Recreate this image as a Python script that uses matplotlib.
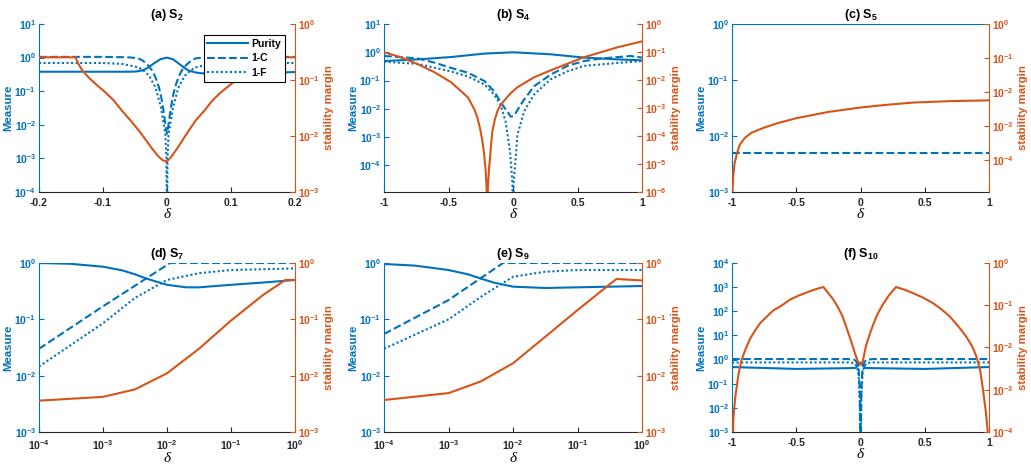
import numpy as np
import matplotlib
matplotlib.use('Agg')
import matplotlib.pyplot as plt
from matplotlib.ticker import FuncFormatter, NullLocator

# colours (matlab default order)
BLUE = '#0072BD'
ORANGE = '#D95319'
AXC = '#262626'

# ---------------- data ----------------
# (a) S2
a_pur_x = [-0.2, -0.1, -0.06, -0.049, -0.04, -0.033, -0.025, -0.018, -0.01, 0.0,
           0.01, 0.019, 0.027, 0.034, 0.045, 0.055, 0.08, 0.12, 0.2]
a_pur = [0.38, 0.38, 0.38, 0.385, 0.41, 0.46, 0.58, 0.72, 0.9, 1.0,
         0.88, 0.65, 0.5, 0.41, 0.36, 0.34, 0.34, 0.35, 0.37]
a_c_x = [-0.2, -0.1, -0.06, -0.045, -0.038, -0.03, -0.023, -0.018, -0.0125, -0.0085,
         -0.0047, -0.002, 0.0, 0.002, 0.0047, 0.0085, 0.0125, 0.018, 0.023, 0.03,
         0.038, 0.045, 0.06, 0.1, 0.2]
a_c = [1.05, 1.05, 1.02, 0.95, 0.82, 0.6, 0.41, 0.26, 0.13, 0.06,
       0.021, 0.009, 0.0054, 0.009, 0.021, 0.06, 0.13, 0.26, 0.41, 0.6,
       0.82, 0.95, 1.02, 1.05, 1.05]
a_f_x = [-0.2, -0.1, -0.07, -0.044, -0.036, -0.028, -0.018, -0.0094, -0.0026, -0.0008,
         0.0, 0.0008, 0.0026, 0.0094, 0.018, 0.028, 0.036, 0.044, 0.07, 0.1, 0.2]
a_f = [0.69, 0.69, 0.65, 0.51, 0.4, 0.29, 0.13, 0.033, 0.0054, 0.001,
       1e-6, 0.001, 0.0054, 0.033, 0.13, 0.29, 0.4, 0.51, 0.65, 0.69, 0.69]
a_sm_x = [-0.2, -0.143, -0.138, -0.132, -0.122, -0.11, -0.096, -0.083, -0.07, -0.057,
          -0.044, -0.033, -0.023, -0.014, -0.0068, 0.0, 0.0083, 0.016, 0.024, 0.034,
          0.045, 0.058, 0.071, 0.084, 0.097, 0.1125, 0.125, 0.133, 0.138, 0.143, 0.2]
a_sm = [0.254, 0.254, 0.19, 0.147, 0.11, 0.082, 0.06, 0.043, 0.028, 0.019,
        0.0125, 0.0085, 0.0059, 0.0044, 0.0037, 0.0035, 0.0045, 0.006, 0.0083, 0.0125,
        0.019, 0.028, 0.043, 0.06, 0.079, 0.11, 0.14, 0.17, 0.2, 0.254, 0.254]

# (b) S4
b_pur_x = [-1, -0.74, -0.48, -0.22, 0, 0.29, 0.55, 0.81, 1]
b_pur = [0.49, 0.56, 0.68, 0.9, 1.0, 0.85, 0.65, 0.56, 0.52]
b_c_x = [-1, -0.74, -0.6, -0.48, -0.35, -0.22, -0.147, -0.083, -0.04, -0.018, 0.0,
         0.02, 0.05, 0.085, 0.163, 0.29, 0.42, 0.55, 0.68, 0.91, 1]
b_c = [0.74, 0.61, 0.42, 0.28, 0.19, 0.095, 0.042, 0.014, 0.0075, 0.0053, 0.0055,
       0.007, 0.012, 0.021, 0.063, 0.16, 0.33, 0.49, 0.6, 0.74, 0.65]
b_f_x = [-1, -0.74, -0.48, -0.35, -0.22, -0.147, -0.096, -0.057, -0.023, -0.005, 0.0,
         0.005, 0.016, 0.034, 0.085, 0.163, 0.29, 0.42, 0.55, 0.81, 1]
b_f = [0.46, 0.39, 0.21, 0.14, 0.072, 0.032, 0.014, 0.0035, 3e-4, 2.5e-5, 1e-7,
       2.5e-5, 1e-4, 1.2e-3, 8e-3, 0.032, 0.11, 0.21, 0.33, 0.42, 0.49]
b_sm_x = [-1, -0.87, -0.74, -0.61, -0.48, -0.35, -0.3, -0.277, -0.255, -0.238, -0.225,
          -0.212, -0.205, -0.2, -0.195, -0.185, -0.178, -0.17, -0.16, -0.14, -0.12,
          -0.1, -0.07, -0.02, 0.034, 0.163, 0.29, 0.55, 0.81, 1]
b_sm = [0.098, 0.065, 0.037, 0.019, 0.0083, 0.0024, 9e-4, 4.7e-4, 1.8e-4, 6.8e-5, 2.5e-5,
        5.8e-6, 1.5e-6, 1e-8, 1.5e-6, 8e-6, 1.7e-5, 5e-5, 1.5e-4, 4e-4, 8e-4,
        1.2e-3, 0.0018, 0.0033, 0.0055, 0.0125, 0.022, 0.065, 0.147, 0.24]

# (c) S5
c_x = [-1, 1]
c_pur = [1.0, 1.0]
c_c = [0.005, 0.005]
c_sm_x = [-1, -0.995, -0.99, -0.98, -0.965, -0.94, -0.9, -0.85, -0.76, -0.65, -0.5,
          -0.25, 0, 0.2, 0.41, 0.7, 1]
c_sm = [1e-6, 1.5e-5, 3.6e-5, 8e-5, 1.4e-4, 2.8e-4, 4.5e-4, 6.3e-4, 8.7e-4, 1.2e-3,
        1.7e-3, 2.6e-3, 3.5e-3, 4.2e-3, 4.9e-3, 5.4e-3, 5.7e-3]

# (d) S7
d_pur_x = [1e-4, 3e-4, 1e-3, 2e-3, 3.16e-3, 5e-3, 1e-2, 2e-2, 3.16e-2, 1e-1, 3.16e-1, 1]
d_pur = [1.0, 0.97, 0.86, 0.74, 0.63, 0.52, 0.41, 0.37, 0.37, 0.41, 0.45, 0.5]
d_c_x = [1e-4, 1e-3, 0.0112, 1]
d_c = [0.03, 0.17, 1.0, 1.0]
d_f_x = [1e-4, 1e-3, 3.16e-3, 1e-2, 3.16e-2, 1e-1, 1]
d_f = [0.0145, 0.085, 0.24, 0.5, 0.66, 0.75, 0.8]
d_sm_x = [1e-4, 1e-3, 3.16e-3, 1e-2, 3.16e-2, 1e-1, 3.16e-1, 0.71, 1]
d_sm = [0.0036, 0.0042, 0.0057, 0.011, 0.03, 0.095, 0.27, 0.5, 0.5]

# (e) S9
e_pur_x = [1e-4, 3e-4, 1e-3, 2e-3, 3.16e-3, 5e-3, 1e-2, 3.16e-2, 1e-1, 1]
e_pur = [0.96, 0.9, 0.75, 0.63, 0.53, 0.45, 0.38, 0.36, 0.37, 0.39]
e_c_x = [1e-4, 1e-3, 7e-3, 1]
e_c = [0.055, 0.22, 1.0, 1.0]
e_f_x = [1e-4, 1e-3, 3.16e-3, 1e-2, 3.16e-2, 1e-1, 1]
e_f = [0.03, 0.1, 0.25, 0.57, 0.7, 0.75, 0.75]
e_sm_x = [1e-4, 1e-3, 3.16e-3, 1e-2, 3.16e-2, 1e-1, 0.4, 1]
e_sm = [0.0037, 0.0049, 0.0079, 0.0166, 0.049, 0.146, 0.52, 0.49]

# (f) S10
f_pur_x = [-1, -0.5, -0.1, -0.04, -0.02, -0.008, 0, 0.008, 0.02, 0.04, 0.1, 0.5, 1]
f_pur = [0.49, 0.41, 0.44, 0.45, 0.55, 0.7, 0.75, 0.7, 0.55, 0.45, 0.44, 0.41, 0.49]
f_cf_x = [-1, -0.1, -0.05, -0.03, -0.015, -0.006, 0, 0.006, 0.015, 0.03, 0.05, 0.1, 1]
f_c = [1.05, 1.05, 1.0, 0.8, 0.4, 0.05, 1e-4, 0.05, 0.4, 0.8, 1.0, 1.05, 1.05]
f_f = [0.76, 0.76, 0.72, 0.55, 0.25, 0.02, 1e-6, 0.02, 0.25, 0.55, 0.72, 0.76, 0.76]
f_sm_x = [-1, -0.99, -0.974, -0.948, -0.925, -0.896, -0.86, -0.818, -0.78, -0.74, -0.68,
          -0.61, -0.55, -0.48, -0.42, -0.375, -0.33, -0.289, -0.255, -0.22, -0.18, -0.14,
          -0.11, -0.076, -0.036, -0.016, 0.0, 0.016, 0.042, 0.07, 0.094, 0.13, 0.17,
          0.22, 0.276, 0.34, 0.406, 0.48, 0.5625, 0.63, 0.693, 0.76, 0.823, 0.87,
          0.901, 0.93, 0.953, 0.975, 0.99, 1]
f_sm = [1e-6, 2e-4, 7e-4, 0.0025, 0.0052, 0.0089, 0.016, 0.026, 0.038, 0.05, 0.075,
        0.1, 0.135, 0.17, 0.2, 0.225, 0.25, 0.27, 0.2, 0.148, 0.095, 0.055,
        0.03, 0.015, 0.0062, 0.0043, 0.0039, 0.0045, 0.0107, 0.02, 0.032, 0.06, 0.1,
        0.17, 0.27, 0.235, 0.195, 0.155, 0.113, 0.08, 0.055, 0.032, 0.018, 0.0105,
        0.0062, 0.003, 0.001, 3e-4, 1e-4, 1e-6]

# ---------------- style ----------------
plt.rcParams['font.family'] = ['Liberation Sans', 'DejaVu Sans']
plt.rcParams['font.weight'] = 'bold'
plt.rcParams['axes.labelweight'] = 'bold'
plt.rcParams['axes.titleweight'] = 'bold'
plt.rcParams['axes.unicode_minus'] = False
plt.rcParams['mathtext.fontset'] = 'custom'
plt.rcParams['mathtext.rm'] = 'Liberation Sans:bold'
plt.rcParams['mathtext.bf'] = 'Liberation Sans:bold'
plt.rcParams['mathtext.it'] = 'Liberation Sans:bold:italic'

TICK = 7.5
LAB = 8.2
LW = 1.5
DOT = (0, (1, 1.2))


def pow10(v, pos):
    return r'$\mathbf{10^{%d}}$' % int(round(np.log10(v)))


def make_panel(fig, rect, title, xlim, xticks, xlog, lim_l, lim_r, exp_l, exp_r):
    ax = fig.add_axes(rect)
    ax.set_yscale('log')
    if xlog:
        ax.set_xscale('log')
    ax2 = ax.twinx()
    ax2.set_yscale('log')

    ax.set_xlim(xlim)
    ax.set_ylim(lim_l)
    ax2.set_ylim(lim_r)
    ax.set_xticks(xticks)
    if xlog:
        ax.xaxis.set_major_formatter(FuncFormatter(pow10))
    else:
        ax.xaxis.set_major_formatter(FuncFormatter(lambda v, p: '%g' % v))
    ax.set_yticks([10.0 ** k for k in exp_l])
    ax2.set_yticks([10.0 ** k for k in exp_r])
    ax.yaxis.set_major_formatter(FuncFormatter(pow10))
    ax2.yaxis.set_major_formatter(FuncFormatter(pow10))
    for a in (ax.xaxis, ax.yaxis, ax2.yaxis):
        a.set_minor_locator(NullLocator())

    # spines
    ax.spines['top'].set_visible(False)
    ax.spines['right'].set_visible(False)
    ax2.spines['top'].set_visible(False)
    ax2.spines['left'].set_visible(False)
    ax2.spines['bottom'].set_visible(False)
    ax.spines['left'].set_color(BLUE)
    ax.spines['bottom'].set_color(AXC)
    ax2.spines['right'].set_color(ORANGE)

    ax.tick_params(axis='y', direction='in', colors=BLUE, labelsize=TICK, length=3.5, pad=2)
    ax.tick_params(axis='x', direction='in', colors=AXC, labelsize=TICK, length=3.5,
                   top=False, pad=4.5)
    ax2.tick_params(axis='y', direction='in', colors=ORANGE, labelsize=TICK, length=3.5, pad=2)

    ax.set_ylabel('Measure', color=BLUE, fontsize=LAB, labelpad=1)
    ax2.set_ylabel('stability margin', color=ORANGE, fontsize=LAB, labelpad=3)
    ax.set_xlabel('δ', fontfamily='Liberation Serif', fontstyle='italic',
                  fontweight='normal', fontsize=11, labelpad=0)
    ax.set_title(title, fontsize=9, pad=4)
    return ax, ax2


def measures(ax, xp, pur, xc, c, xf, f):
    h = []
    if pur is not None:
        h += ax.plot(xp, pur, color=BLUE, lw=LW, ls='-', label='Purity')
    if c is not None:
        h += ax.plot(xc, c, color=BLUE, lw=LW, ls='--', label='1-C')
    if f is not None:
        h += ax.plot(xf, f, color=BLUE, lw=LW, ls=DOT, label='1-F')
    return h


fig = plt.figure(figsize=(10.31, 4.65), dpi=100)

top_b, top_h = 0.5871, 0.3613
bot_b, bot_h = 0.0710, 0.3634
cols = [(0.0378, 0.2483), (0.3725, 0.2502), (0.7100, 0.2493)]
lin_ticks = [-1, -0.5, 0, 0.5, 1]
log_ticks = [1e-4, 1e-3, 1e-2, 1e-1, 1]

# (a)
ax, ax2 = make_panel(fig, [cols[0][0], top_b, cols[0][1], top_h], r'(a) S$_{\mathbf{2}}$',
                     (-0.2, 0.2), [-0.2, -0.1, 0, 0.1, 0.2], False,
                     (1e-4, 10), (1e-3, 1), range(-4, 2), range(-3, 1))
hs = measures(ax, a_pur_x, a_pur, a_c_x, a_c, a_f_x, a_f)
ax2.plot(a_sm_x, a_sm, color=ORANGE, lw=LW)
leg = ax2.legend(hs, [h.get_label() for h in hs], loc='upper right',
                 bbox_to_anchor=(0.961, 0.935), borderaxespad=0,
                 fontsize=TICK, handlelength=3.9,
                 fancybox=False, framealpha=1, edgecolor='black',
                 borderpad=0.35, labelspacing=0.45, handletextpad=0.35)
leg.get_frame().set_linewidth(0.8)

# (b)
ax, ax2 = make_panel(fig, [cols[1][0], top_b, cols[1][1], top_h], r'(b) S$_{\mathbf{4}}$',
                     (-1, 1), lin_ticks, False,
                     (1.15e-5, 10), (1e-6, 1), range(-4, 2), range(-6, 1))
measures(ax, b_pur_x, b_pur, b_c_x, b_c, b_f_x, b_f)
ax2.plot(b_sm_x, b_sm, color=ORANGE, lw=LW)

# (c)
ax, ax2 = make_panel(fig, [cols[2][0], top_b, cols[2][1], top_h], r'(c) S$_{\mathbf{5}}$',
                     (-1, 1), lin_ticks, False,
                     (1e-3, 1), (1.15e-5, 1), range(-3, 1), range(-4, 1))
measures(ax, c_x, c_pur, c_x, c_c, None, None)
ax2.plot(c_sm_x, c_sm, color=ORANGE, lw=LW)

# (d)
ax, ax2 = make_panel(fig, [cols[0][0], bot_b, cols[0][1], bot_h], r'(d) S$_{\mathbf{7}}$',
                     (1e-4, 1), log_ticks, True,
                     (1e-3, 1), (1e-3, 1), range(-3, 1), range(-3, 1))
measures(ax, d_pur_x, d_pur, d_c_x, d_c, d_f_x, d_f)
ax2.plot(d_sm_x, d_sm, color=ORANGE, lw=LW)

# (e)
ax, ax2 = make_panel(fig, [cols[1][0], bot_b, cols[1][1], bot_h], r'(e) S$_{\mathbf{9}}$',
                     (1e-4, 1), log_ticks, True,
                     (1e-3, 1), (1e-3, 1), range(-3, 1), range(-3, 1))
measures(ax, e_pur_x, e_pur, e_c_x, e_c, e_f_x, e_f)
ax2.plot(e_sm_x, e_sm, color=ORANGE, lw=LW)

# (f)
ax, ax2 = make_panel(fig, [cols[2][0], bot_b, cols[2][1], bot_h], r'(f) S$_{\mathbf{10}}$',
                     (-1, 1), lin_ticks, False,
                     (1e-3, 1e4), (1e-4, 1), range(-3, 5), range(-4, 1))
measures(ax, f_pur_x, f_pur, f_cf_x, f_c, f_cf_x, f_f)
ax2.plot(f_sm_x, f_sm, color=ORANGE, lw=LW)

fig.savefig('out.png', dpi=100)
